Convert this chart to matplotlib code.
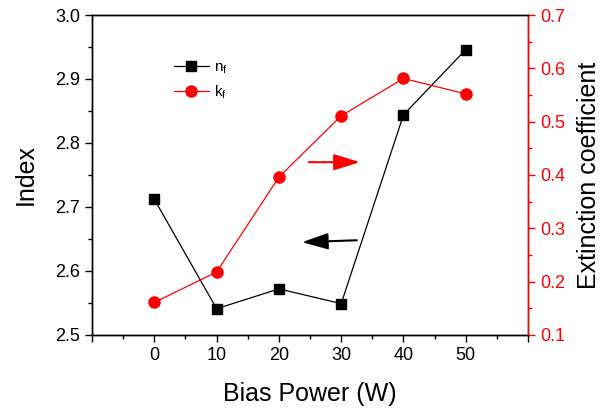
import numpy as np
import matplotlib
matplotlib.use('Agg')
import matplotlib.pyplot as plt
from matplotlib.ticker import MultipleLocator, FixedLocator

plt.rcParams['font.family'] = ['Liberation Sans', 'DejaVu Sans']
plt.rcParams['mathtext.fontset'] = 'custom'
plt.rcParams['mathtext.rm'] = 'Liberation Sans'

# data
bias_power = [0, 10, 20, 30, 40, 50]
n_f = [2.712, 2.541, 2.572, 2.549, 2.844, 2.946]
k_f = [0.161, 0.218, 0.396, 0.511, 0.581, 0.552]
x_ticks = [-10, 0, 10, 20, 30, 40, 50, 60]
x_labels = ['', '0', '10', '20', '30', '40', '50', '']

fig = plt.figure(figsize=(6.07, 4.11), dpi=100)
ax = fig.add_axes([0.1516, 0.185, 0.7184, 0.7785])
ax2 = ax.twinx()

ax.plot(bias_power, n_f, color='black', lw=0.9, marker='s', ms=7,
        label=r'n$_\mathregular{f}$')
ax2.plot(bias_power, k_f, color='red', lw=0.9, marker='o', ms=8,
         label=r'k$_\mathregular{f}$')

ax.set_xlim(-10, 60)
ax.set_ylim(2.5, 3.0)
ax2.set_ylim(0.1, 0.7)

ax.xaxis.set_major_locator(FixedLocator(x_ticks))
ax.set_xticklabels(x_labels)
ax.xaxis.set_minor_locator(MultipleLocator(5))
ax.yaxis.set_major_locator(MultipleLocator(0.1))
ax.yaxis.set_minor_locator(MultipleLocator(0.05))
ax2.yaxis.set_major_locator(MultipleLocator(0.1))
ax2.yaxis.set_minor_locator(MultipleLocator(0.05))

ax.tick_params(which='both', direction='out', labelsize=13, top=False)
ax.tick_params(which='major', length=5, width=1)
ax.tick_params(which='minor', length=3, width=1)
ax2.tick_params(which='both', direction='out', colors='red', labelsize=13)
ax2.tick_params(which='major', length=5, width=1)
ax2.tick_params(which='minor', length=3, width=1)
for a in (ax, ax2):
    for s in a.spines.values():
        s.set_linewidth(1)
ax2.spines['right'].set_color('red')

ax.set_xlabel('Bias Power (W)', fontsize=18)
ax.set_ylabel('Index', fontsize=18)
ax2.set_ylabel('Extinction coefficient', fontsize=18)
ax.xaxis.set_label_coords(0.5, -0.147)
ax.yaxis.set_label_coords(-0.124, 0.5)
ax2.yaxis.set_label_coords(1.112, 0.5)
ax.yaxis.set_major_formatter(plt.FormatStrFormatter('%.1f'))
ax2.yaxis.set_major_formatter(plt.FormatStrFormatter('%.1f'))

# direction arrows
head = '-|>,head_length=0.8,head_width=0.25'
ax2.annotate('', xy=(33.0, 0.424), xytext=(24.8, 0.424),
             arrowprops=dict(arrowstyle=head, color='red', lw=1.5,
                             mutation_scale=20, shrinkA=0, shrinkB=0))
ax.annotate('', xy=(23.7, 2.645), xytext=(32.5, 2.648),
            arrowprops=dict(arrowstyle=head, color='black', lw=1.5,
                            mutation_scale=20, shrinkA=0, shrinkB=0))

h1, l1 = ax.get_legend_handles_labels()
h2, l2 = ax2.get_legend_handles_labels()
ax.legend(h1 + h2, l1 + l2, loc='upper left', bbox_to_anchor=(0.156, 0.90),
          frameon=False, fontsize=11, handlelength=2.3, handletextpad=0.3,
          labelspacing=0.45)

fig.savefig('out.png', dpi=100)
